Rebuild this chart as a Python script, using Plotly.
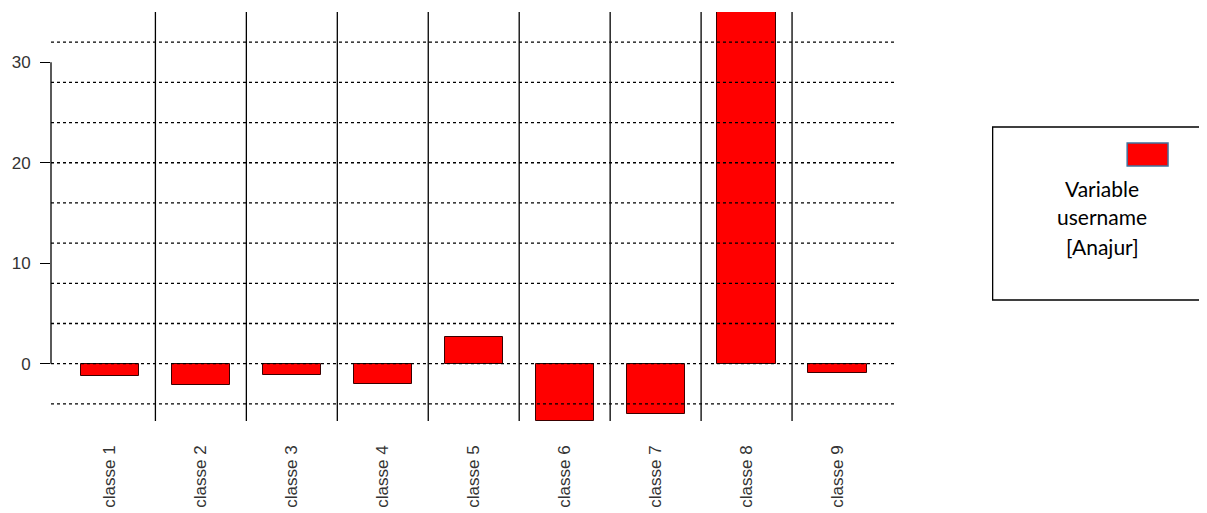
import plotly.graph_objects as go

# ---- data ----
categories = ["classe 1", "classe 2", "classe 3", "classe 4", "classe 5",
              "classe 6", "classe 7", "classe 8", "classe 9"]
values = [-1.25, -2.1, -1.1, -2.0, 2.7, -5.7, -5.0, 35.0, -0.95]
y_ticks = [0, 10, 20, 30]
grid_levels = [-4, 0, 4, 8, 12, 16, 20, 24, 28, 32]
legend_lines = ["Variable", "username", "[Anajur]"]

# ---- layout geometry (page has an 8px body margin) ----
OFF = 8
W, H = 1207 - OFF, 513 - OFF
ML, MR, MT, MB = 48 - OFF, 312, 12 - OFF, 92
PW, PH = W - ML - MR, H - MT - MB

def px(x):
    return (x - OFF - ML) / PW

def py(y):
    return (H - MB - (y - OFF)) / PH

positions = list(range(1, len(categories) + 1))

fig = go.Figure()
fig.add_trace(go.Bar(
    x=positions, y=values, width=0.64,
    marker=dict(color="#ff0000", line=dict(color="#3a0000", width=1)),
    showlegend=False, hoverinfo="skip",
))

shapes = []
# dotted horizontal reference lines (drawn above bars)
for g in grid_levels:
    shapes.append(dict(type="line", xref="paper", yref="y", x0=0, x1=1, y0=g, y1=g,
                       line=dict(color="black", width=1.3, dash="3px,3px"), layer="above"))
# vertical separators between classes
for p in positions[:-1]:
    shapes.append(dict(type="line", xref="x", yref="paper", x0=p + 0.5, x1=p + 0.5, y0=0, y1=1,
                       line=dict(color="black", width=1.3), layer="above"))
# R-style y axis line spanning the tick range
shapes.append(dict(type="line", xref="paper", yref="y", x0=0, x1=0,
                   y0=min(y_ticks), y1=max(y_ticks),
                   line=dict(color="black", width=1.3), layer="above"))
# legend box and swatch
shapes.append(dict(type="rect", xref="paper", yref="paper",
                   x0=px(993), x1=px(1205), y0=py(300), y1=py(127),
                   line=dict(color="black", width=1.3), fillcolor="rgba(0,0,0,0)"))
shapes.append(dict(type="rect", xref="paper", yref="paper",
                   x0=px(1128), x1=px(1169), y0=py(166), y1=py(143),
                   line=dict(color="#41719c", width=1.5), fillcolor="#ff0000"))

annotations = []
for i, t in enumerate(legend_lines):
    annotations.append(dict(text=t, xref="paper", yref="paper", x=px(1103), y=py(188 + 29 * i),
                            xanchor="center", yanchor="middle", showarrow=False,
                            font=dict(family="Lato", size=21, color="black")))

fig.update_layout(
    width=W, height=H,
    margin=dict(l=ML, r=MR, t=MT, b=MB, pad=0),
    paper_bgcolor="white", plot_bgcolor="white",
    shapes=shapes, annotations=annotations,
    xaxis=dict(range=[0.352, 9.632], tickmode="array", tickvals=positions, ticktext=categories,
               tickangle=-90, showgrid=False, zeroline=False, showline=False, ticks="",
               tickfont=dict(family="Liberation Sans, Arial", size=17, color="#333333"),
               ticklabelstandoff=20),
    yaxis=dict(range=[min(values), max(values)], tickmode="array", tickvals=y_ticks,
               showgrid=False, zeroline=False, showline=False,
               ticks="outside", ticklen=10, tickwidth=1.3, tickcolor="black",
               ticklabelstandoff=6,
               tickfont=dict(family="Liberation Sans, Arial", size=17, color="#333333")),
    bargap=0,
)

fig.write_html("out.html")
